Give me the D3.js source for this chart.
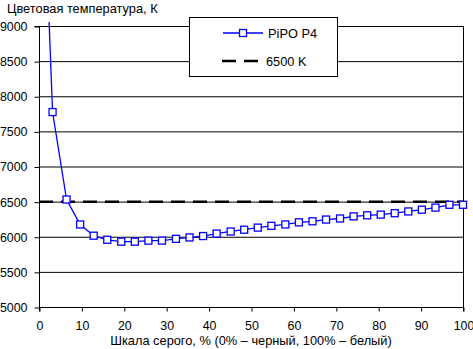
<!DOCTYPE html>
<html><head><meta charset="utf-8">
<script src="https://cdn.jsdelivr.net/npm/d3@7"></script>
<style>
html,body{margin:0;padding:0;background:#fff;}
svg{display:block;font-family:"Liberation Sans",Arial,sans-serif;}
</style></head>
<body>
<svg id="c" width="473" height="349"></svg>
<script>
const grayPercent = [0, 3.2, 6.5, 9.7, 12.9, 16.1, 19.4, 22.6, 25.8, 29.0, 32.3, 35.5, 38.7, 41.9, 45.2, 48.4,
  51.6, 54.8, 58.1, 61.3, 64.5, 67.7, 71.0, 74.2, 77.4, 80.6, 83.9, 87.1, 90.3, 93.5, 96.8, 100];
const pipoP4 = [12800, 7775, 6530, 6175, 6015, 5957, 5930, 5930, 5945, 5945, 5970, 5990, 6010, 6045, 6075, 6100,
  6130, 6155, 6175, 6205, 6220, 6245, 6260, 6290, 6305, 6315, 6335, 6360, 6385, 6415, 6455, 6455];
const referenceK = 6500;
const xTicks = [0, 10, 20, 30, 40, 50, 60, 70, 80, 90, 100];
const yTicks = [5000, 5500, 6000, 6500, 7000, 7500, 8000, 8500, 9000];
const seriesNames = ["PiPO P4", "6500 K"];
const yTitle = "Цветовая температура, К";
const xTitle = "Шкала серого, % (0% – черный, 100% – белый)";

const svg = d3.select("#c");
const L = 39, R = 463, T = 26, B = 307;
const x = d3.scaleLinear().domain([0, 100]).range([L, R]);
const y = d3.scaleLinear().domain([5000, 9000]).range([B, T]);
const fs = 12.8, fsTick = 12.4;

// gridlines
svg.append("g").selectAll("line").data(yTicks.filter(d => d > 5000)).join("line")
  .attr("x1", L).attr("x2", R).attr("y1", d => y(d) + 0.5).attr("y2", d => y(d) + 0.5)
  .attr("stroke", "#000").attr("stroke-width", 1);

// right border
svg.append("line").attr("x1", R + 0.5).attr("x2", R + 0.5).attr("y1", T).attr("y2", B)
  .attr("stroke", "#000");

// 6500 K reference dashed
svg.append("line").attr("x1", L).attr("x2", R).attr("y1", y(referenceK)).attr("y2", y(referenceK))
  .attr("stroke", "#000").attr("stroke-width", 2.5).attr("stroke-dasharray", "14,8");

// axes
const yAxis = d3.axisLeft(y).tickValues(yTicks).tickSize(5).tickPadding(7).tickFormat(d3.format("d"));
const gy = svg.append("g").attr("transform", `translate(${L + 0.5},0.5)`).call(yAxis);
const xAxis = d3.axisBottom(x).tickValues(xTicks).tickSize(4).tickPadding(10).tickFormat(d3.format("d"));
const gx = svg.append("g").attr("transform", `translate(0.5,${B + 0.5})`).call(xAxis);
[gy, gx].forEach(g => {
  g.select(".domain").attr("stroke", "#000");
  g.selectAll(".tick line").attr("stroke", "#000");
  g.selectAll(".tick text").attr("fill", "#000").attr("font-size", fsTick)
    .attr("font-family", "'Liberation Sans', Arial, sans-serif");
});
gy.select(".domain").attr("d", `M-5,${T}H0V${B}`);
gx.select(".domain").attr("d", `M${L},4V0H${R}V4`);

// titles
svg.append("text").attr("x", 7).attr("y", 13).attr("font-size", fs).attr("fill", "#000").text(yTitle);
svg.append("text").attr("x", (L + R) / 2).attr("y", 345).attr("text-anchor", "middle")
  .attr("font-size", fs).attr("fill", "#000").text(xTitle);

// series
const data = grayPercent.map((g, i) => ({g, v: pipoP4[i]}));
svg.append("clipPath").attr("id", "clip").append("rect")
  .attr("x", L).attr("y", 22).attr("width", R - L + 2).attr("height", B - 22);
svg.append("path").datum(data).attr("clip-path", "url(#clip)")
  .attr("fill", "none").attr("stroke", "#0000ff").attr("stroke-width", 1.3)
  .attr("d", d3.line().x(d => x(d.g)).y(d => y(d.v)));
svg.append("g").selectAll("rect").data(data.filter(d => d.v <= 9000)).join("rect")
  .attr("x", d => x(d.g) - 3.5).attr("y", d => y(d.v) - 3.5)
  .attr("width", 7).attr("height", 7)
  .attr("fill", "#fff").attr("stroke", "#0000ff").attr("stroke-width", 1.3);

// legend
const lg = svg.append("g");
lg.append("rect").attr("x", 189.5).attr("y", 17.5).attr("width", 148).attr("height", 59)
  .attr("fill", "#fff").attr("stroke", "#000");
lg.append("line").attr("x1", 223).attr("x2", 263).attr("y1", 33).attr("y2", 33)
  .attr("stroke", "#0000ff").attr("stroke-width", 1.3);
lg.append("rect").attr("x", 239.5).attr("y", 29.5).attr("width", 7).attr("height", 7)
  .attr("fill", "#fff").attr("stroke", "#0000ff").attr("stroke-width", 1.3);
lg.append("text").attr("x", 268).attr("y", 37.5).attr("font-size", fs).attr("fill", "#000").text(seriesNames[0]);
lg.append("line").attr("x1", 222).attr("x2", 259).attr("y1", 61).attr("y2", 61)
  .attr("stroke", "#000").attr("stroke-width", 2.5).attr("stroke-dasharray", "14,8");
lg.append("text").attr("x", 266).attr("y", 65.5).attr("font-size", fs).attr("fill", "#000").text(seriesNames[1]);
</script>
</body></html>
